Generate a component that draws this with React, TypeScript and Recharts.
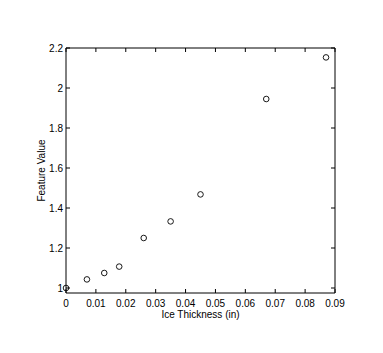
import { ScatterChart, Scatter, XAxis, YAxis } from 'recharts';

// ice thickness (in) vs feature value
const thickness = [0, 0.007, 0.0128, 0.0178, 0.026, 0.035, 0.045, 0.067, 0.087];
const featureValue = [1.0, 1.043, 1.075, 1.107, 1.25, 1.333, 1.468, 1.945, 2.153];
const xTicks = [0, 0.01, 0.02, 0.03, 0.04, 0.05, 0.06, 0.07, 0.08, 0.09];
const yTicks = [1, 1.2, 1.4, 1.6, 1.8, 2, 2.2];

const points = thickness.map((t, i) => ({ x: t, y: featureValue[i] }));

const FONT = '"Liberation Sans", Arial, sans-serif';
const INK = '#000';

const fmt = (v: number) => String(Number(v.toFixed(3)));

const BottomTick = (props: any) => {
  const { x, y, payload } = props;
  return (
    <g>
      <line x1={x} y1={y} x2={x} y2={y - 4} stroke={INK} />
      <text x={x} y={y + 14} textAnchor="middle" fontSize={10} fontFamily={FONT} fill={INK}>
        {fmt(payload.value)}
      </text>
    </g>
  );
};

const LeftTick = (props: any) => {
  const { x, y, payload } = props;
  return (
    <g>
      <line x1={x} y1={y} x2={x + 4} y2={y} stroke={INK} />
      <text x={x - 3} y={y + 3.5} textAnchor="end" fontSize={10} fontFamily={FONT} fill={INK}>
        {fmt(payload.value)}
      </text>
    </g>
  );
};

const TopTick = (props: any) => {
  const { x, y } = props;
  return <line x1={x} y1={y} x2={x} y2={y + 4} stroke={INK} />;
};

const RightTick = (props: any) => {
  const { x, y } = props;
  return <line x1={x} y1={y} x2={x - 4} y2={y} stroke={INK} />;
};

const Ring = (props: any) => {
  const { cx, cy } = props;
  return <circle cx={cx} cy={cy} r={2.8} fill="none" stroke={INK} strokeWidth={0.9} />;
};

const Nothing = () => <g />;

export default function App() {
  return (
    <div style={{ position: 'absolute', left: 0, top: 0, width: 383, height: 353, background: '#fff' }}>
      <ScatterChart width={383} height={353} margin={{ top: 47, right: 47, left: 26, bottom: 30 }}>
        <XAxis
          xAxisId="b"
          type="number"
          dataKey="x"
          domain={[0, 0.09]}
          ticks={xTicks}
          interval={0}
          height={30}
          tickSize={0}
          tickMargin={0}
          tick={<BottomTick />}
          stroke={INK}
          label={{
            content: (p: any) => (
              <text
                x={p.viewBox.x + p.viewBox.width / 2}
                y={p.viewBox.y + 25}
                textAnchor="middle"
                fontSize={10}
                fontFamily={FONT}
                fill={INK}
              >
                Ice Thickness (in)
              </text>
            ),
          }}
        />
        <XAxis
          xAxisId="t"
          orientation="top"
          type="number"
          dataKey="x"
          domain={[0, 0.09]}
          ticks={xTicks}
          interval={0}
          height={1}
          tickSize={0}
          tickMargin={0}
          tick={<TopTick />}
          stroke={INK}
        />
        <YAxis
          yAxisId="l"
          type="number"
          dataKey="y"
          domain={[0.975, 2.2]}
          ticks={yTicks}
          interval={0}
          width={40}
          tickSize={0}
          tickMargin={0}
          tick={<LeftTick />}
          stroke={INK}
          label={{
            content: (p: any) => {
              const cx = p.viewBox.x + 19;
              const cy = p.viewBox.y + p.viewBox.height / 2;
              return (
                <text
                  x={cx}
                  y={cy}
                  textAnchor="middle"
                  transform={`rotate(-90 ${cx} ${cy})`}
                  fontSize={10}
                  fontFamily={FONT}
                  fill={INK}
                >
                  Feature Value
                </text>
              );
            },
          }}
        />
        <YAxis
          yAxisId="r"
          orientation="right"
          type="number"
          dataKey="y"
          domain={[0.975, 2.2]}
          ticks={yTicks}
          interval={0}
          width={1}
          tickSize={0}
          tickMargin={0}
          tick={<RightTick />}
          stroke={INK}
        />
        <Scatter
          data={points}
          xAxisId="t"
          yAxisId="r"
          shape={<Nothing />}
          isAnimationActive={false}
        />
        <Scatter
          data={points}
          xAxisId="b"
          yAxisId="l"
          shape={<Ring />}
          isAnimationActive={false}
        />
      </ScatterChart>
    </div>
  );
}
